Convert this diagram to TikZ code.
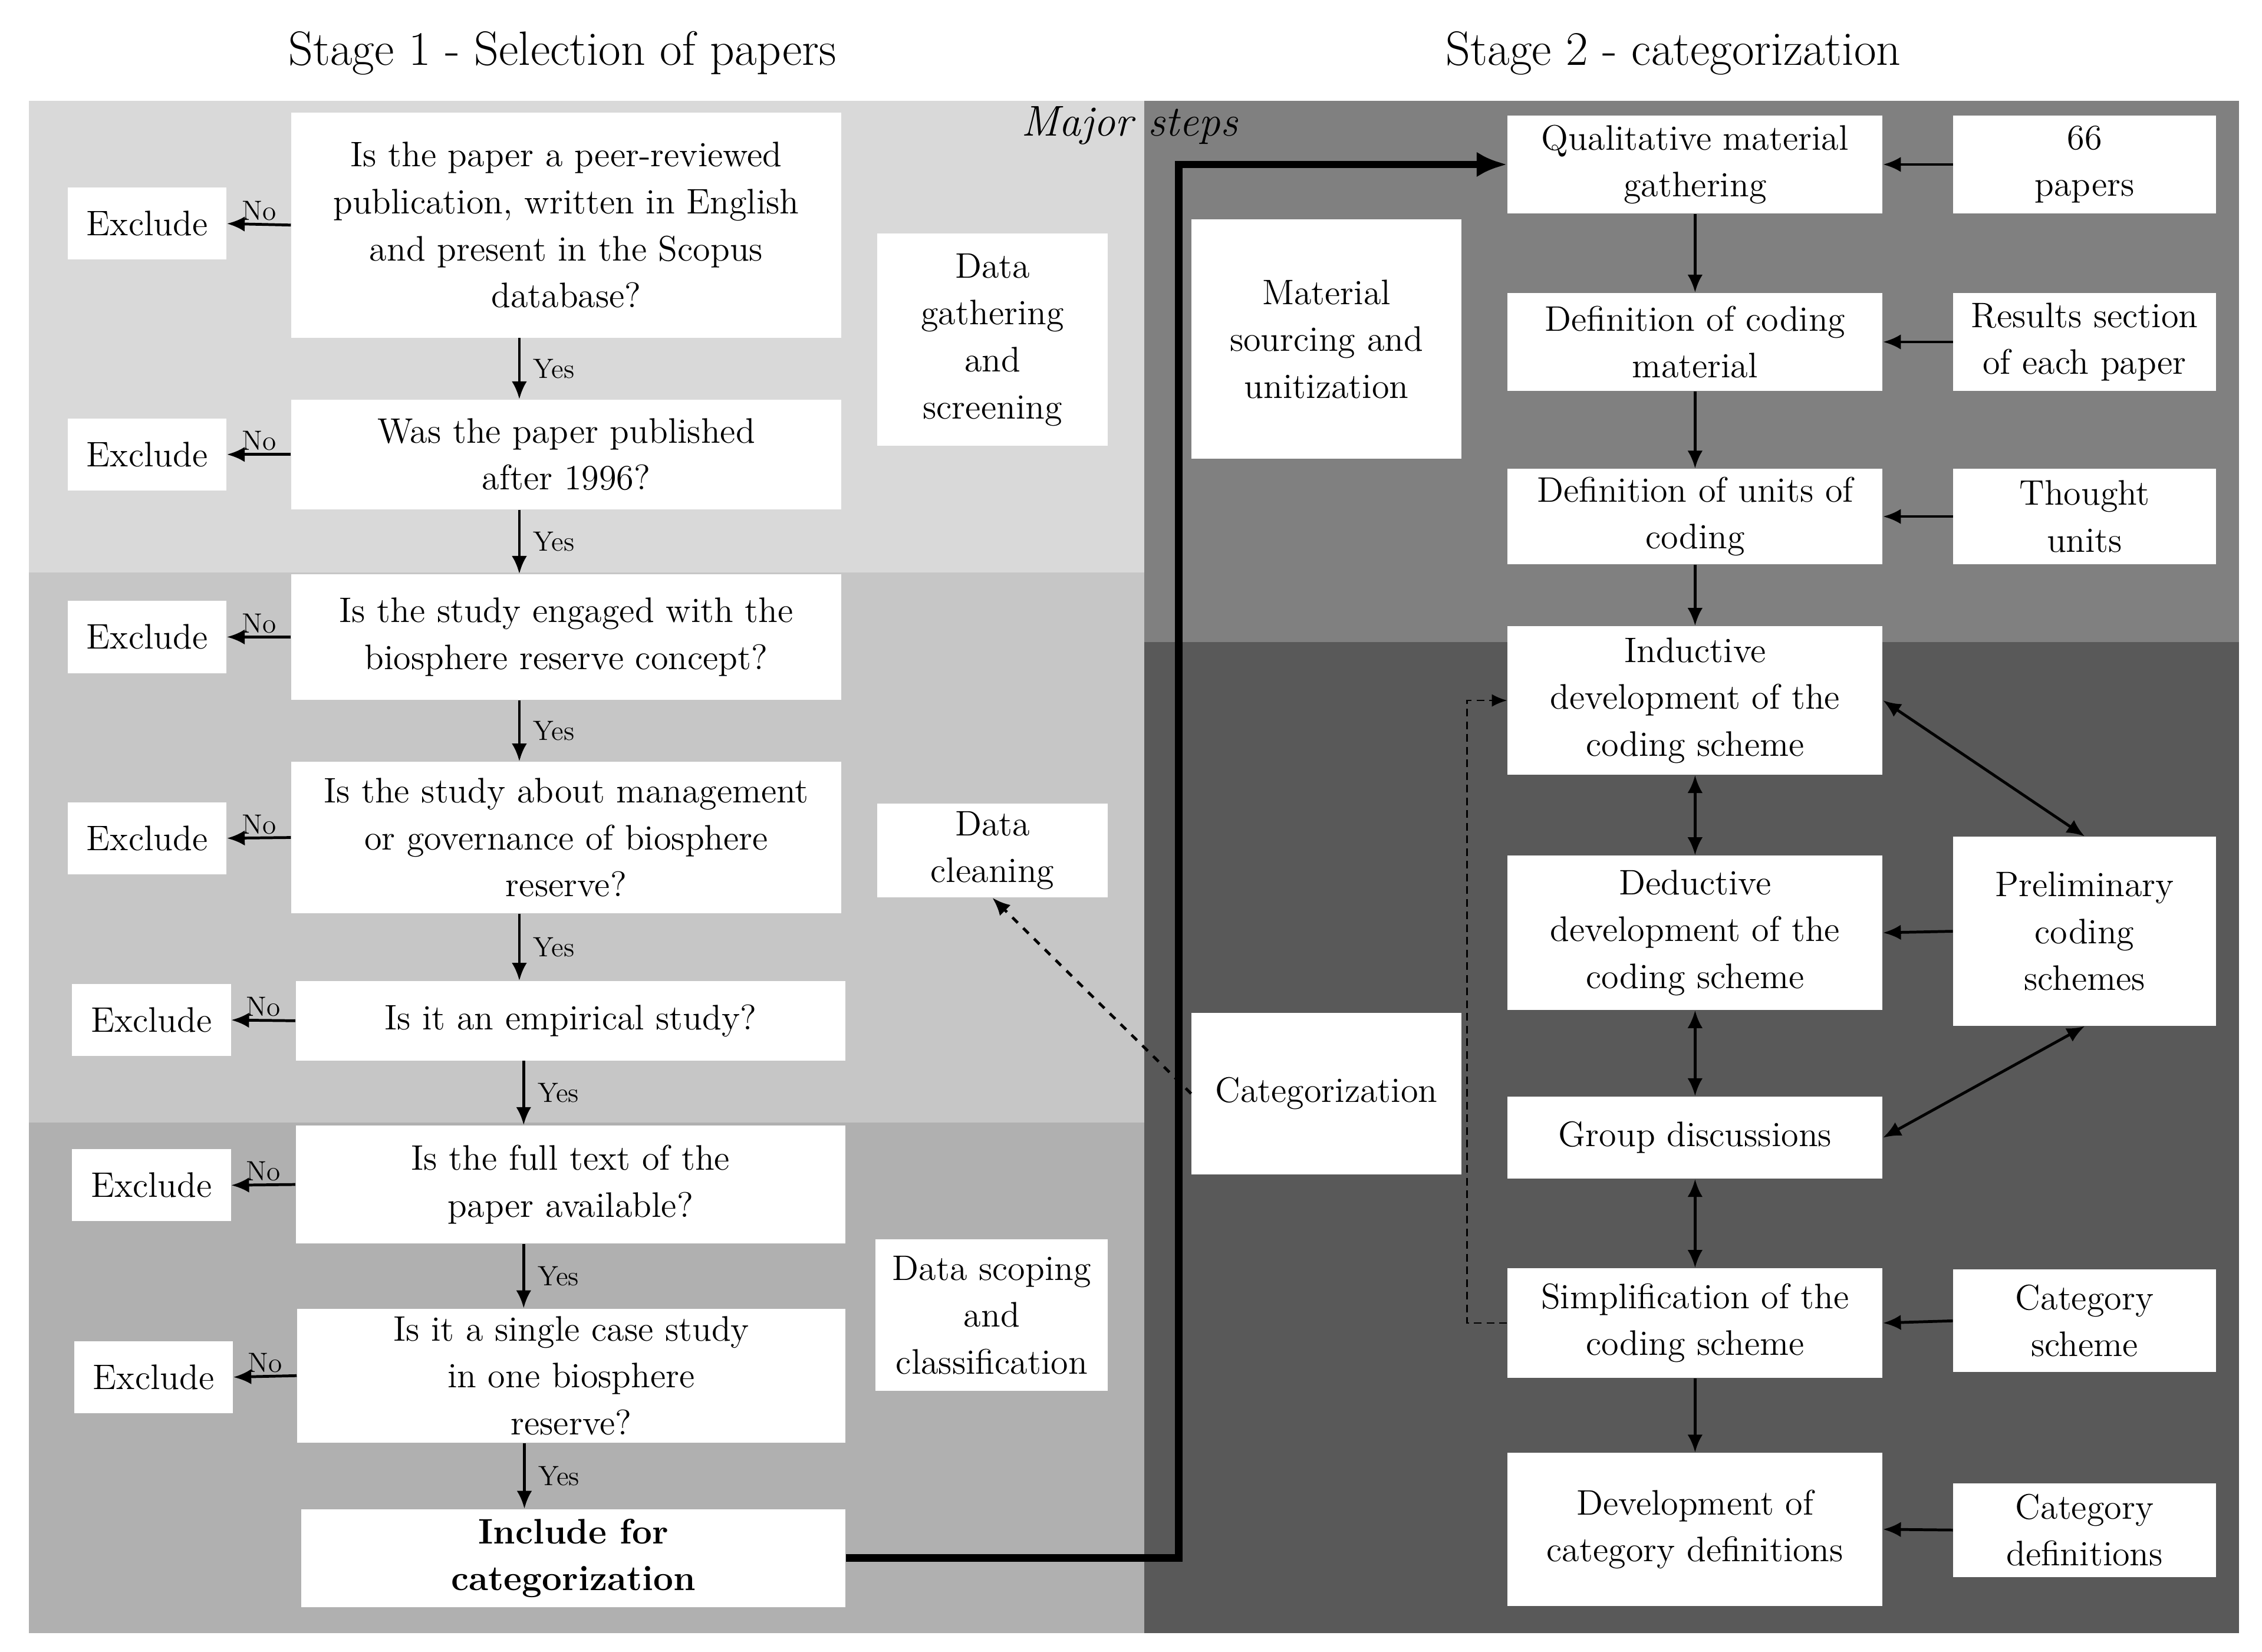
\documentclass[tikz,border=0pt]{standalone}
\usepackage{tikz}
\usetikzlibrary{arrows.meta}

\tikzset{
	box/.style={draw=none,fill=white,align=center,inner sep=1pt,font=\fontsize{14}{18.5}\selectfont},
	ex/.style={box,minimum width=2.2cm,minimum height=1cm},
	lab/.style={font=\fontsize{11}{13}\selectfont,inner sep=1pt},
	arr/.style={-{Latex[length=7pt,width=6pt]},line width=1.1pt},
	darr/.style={{Latex[length=7pt,width=6pt]}-{Latex[length=7pt,width=6pt]},line width=1.1pt}
}

\begin{document}
\begin{tikzpicture}
	\useasboundingbox (0,0) rectangle (31.36,-22.9);
	% backgrounds
	\fill[white] (0,0) rectangle (31.36,-22.9);
	\fill[gray!30] (0.40,-1.40) rectangle (15.86,-7.94);
	\fill[gray!45] (0.40,-7.94) rectangle (15.86,-15.56);
	\fill[gray!62] (0.40,-15.56) rectangle (15.86,-20.90);
	\fill[gray!88!black!55] (0.40,-20.90) rectangle (15.86,-22.64);
	\fill[black!50] (15.86,-1.40) rectangle (31.04,-8.90);
	\fill[black!65] (15.86,-8.90) rectangle (31.04,-22.64);

	\node[font=\fontsize{19}{22}\selectfont] (T1) at (7.8,-0.74) {Stage 1 - Selection of papers};
	\node[font=\fontsize{19}{22}\selectfont] (T2) at (23.2,-0.74) {Stage 2 - categorization};
	\node[font=\fontsize{17}{20}\selectfont\itshape] (MS) at (15.66,-1.74) {Major steps};

	% stage 1 questions
	\node[box,minimum width=7.62cm,minimum height=3.12cm] (Q1) at (7.85,-3.12) {Is the paper a peer-reviewed\\publication, written in English\\and present in the Scopus\\database?};
	\node[box,minimum width=7.62cm,minimum height=1.52cm] (Q2) at (7.85,-6.30) {Was the paper published\\after 1996?};
	\node[box,minimum width=7.62cm,minimum height=1.74cm] (Q3) at (7.85,-8.83) {Is the study engaged with the\\biosphere reserve concept?};
	\node[box,minimum width=7.62cm,minimum height=2.10cm] (Q4) at (7.85,-11.61) {Is the study about management\\or governance of biosphere\\reserve?};
	\node[box,minimum width=7.62cm,minimum height=1.10cm] (Q5) at (7.91,-14.15) {Is it an empirical study?};
	\node[box,minimum width=7.62cm,minimum height=1.64cm] (Q6) at (7.91,-16.42) {Is the full text of the\\paper available?};
	\node[box,minimum width=7.60cm,minimum height=1.86cm] (Q7) at (7.92,-19.07) {Is it a single case study\\in one biosphere\\reserve?};
	\node[box,minimum width=7.54cm,minimum height=1.36cm,font=\fontsize{14}{18.5}\selectfont\bfseries] (Inc) at (7.95,-21.60) {Include for\\categorization};

	\node[ex] (E1) at (2.04,-3.10) {Exclude};
	\node[ex] (E2) at (2.04,-6.30) {Exclude};
	\node[ex] (E3) at (2.04,-8.83) {Exclude};
	\node[ex] (E4) at (2.04,-11.62) {Exclude};
	\node[ex] (E5) at (2.10,-14.14) {Exclude};
	\node[ex] (E6) at (2.10,-16.43) {Exclude};
	\node[ex] (E7) at (2.13,-19.09) {Exclude};

	\foreach \q in {1,...,7}
		\draw [arr] (Q\q.west) -- node[lab,above] {No} (E\q.east);
	\foreach \a/\b in {Q1/Q2,Q2/Q3,Q3/Q4,Q4/Q5,Q5/Q6,Q6/Q7,Q7/Inc}
		\draw [arr] (\a.south) ++(-0.65,0) coordinate (s) -- (s |- \b.north) node[lab,pos=0.5,right=4pt] {Yes};

	% major steps
	\node[box,minimum width=3.2cm,minimum height=2.94cm] (DG) at (13.76,-4.71) {Data\\gathering\\and\\screening};
	\node[box,minimum width=3.2cm,minimum height=1.30cm] (DC) at (13.76,-11.79) {Data\\cleaning};
	\node[box,minimum width=3.22cm,minimum height=2.10cm] (DS) at (13.75,-18.23) {Data scoping\\and\\classification};
	\node[box,minimum width=3.74cm,minimum height=3.32cm] (MSU) at (18.39,-4.70) {Material\\sourcing and\\unitization};
	\node[box,minimum width=3.74cm,minimum height=2.24cm] (Cat) at (18.39,-15.16) {Categorization};

	% stage 2
	\node[box,minimum width=5.2cm,minimum height=1.36cm] (C1) at (23.5,-2.28) {Qualitative material\\gathering};
	\node[box,minimum width=5.2cm,minimum height=1.36cm] (C2) at (23.5,-4.74) {Definition of coding\\material};
	\node[box,minimum width=5.2cm,minimum height=1.32cm] (C3) at (23.5,-7.16) {Definition of units of\\coding};
	\node[box,minimum width=5.2cm,minimum height=2.06cm] (C4) at (23.5,-9.71) {Inductive\\development of the\\coding scheme};
	\node[box,minimum width=5.2cm,minimum height=2.14cm] (C5) at (23.5,-12.93) {Deductive\\development of the\\coding scheme};
	\node[box,minimum width=5.2cm,minimum height=1.14cm] (C6) at (23.5,-15.77) {Group discussions};
	\node[box,minimum width=5.2cm,minimum height=1.52cm] (C7) at (23.5,-18.34) {Simplification of the\\coding scheme};
	\node[box,minimum width=5.2cm,minimum height=2.12cm] (C8) at (23.5,-21.20) {Development of\\category definitions};

	\node[box,minimum width=3.64cm,minimum height=1.36cm] (R1) at (28.9,-2.28) {66\\papers};
	\node[box,minimum width=3.64cm,minimum height=1.36cm] (R2) at (28.9,-4.74) {Results section\\of each paper};
	\node[box,minimum width=3.64cm,minimum height=1.32cm] (R3) at (28.9,-7.16) {Thought\\units};
	\node[box,minimum width=3.64cm,minimum height=2.62cm] (R4) at (28.9,-12.91) {Preliminary\\coding\\schemes};
	\node[box,minimum width=3.64cm,minimum height=1.42cm] (R5) at (28.9,-18.31) {Category\\scheme};
	\node[box,minimum width=3.64cm,minimum height=1.30cm] (R6) at (28.9,-21.21) {Category\\definitions};

	\draw [arr] (C1) -- (C2);
	\draw [arr] (C2) -- (C3);
	\draw [arr] (C3) -- (C4);
	\draw [arr] (C7) -- (C8);
	\draw [darr] (C4) -- (C5);
	\draw [darr] (C5) -- (C6);
	\draw [darr] (C6) -- (C7);
	\draw [darr] (C4.east) -- (R4.north);
	\draw [darr] (C6.east) -- (R4.south);
	\foreach \r/\c in {R1/C1,R2/C2,R3/C3,R4/C5,R5/C7,R6/C8}
		\draw [arr] (\r.west) -- (\c.east);

	% links between stages
	\coordinate (bend) at (16.34,-2.28);
	\draw [-{Latex[length=12pt,width=10pt]},line width=3pt] (Inc.east) -| (bend) -- (C1.west);
	\coordinate (fb) at (20.34,-18.34);
	\draw [-{Latex[length=6pt,width=5pt]},densely dashed,line width=0.6pt] (C7.west) -- (fb) |- (C4.west);
	\draw [arr,dashed] (Cat.west) -- (DC.south);
\end{tikzpicture}
\end{document}
